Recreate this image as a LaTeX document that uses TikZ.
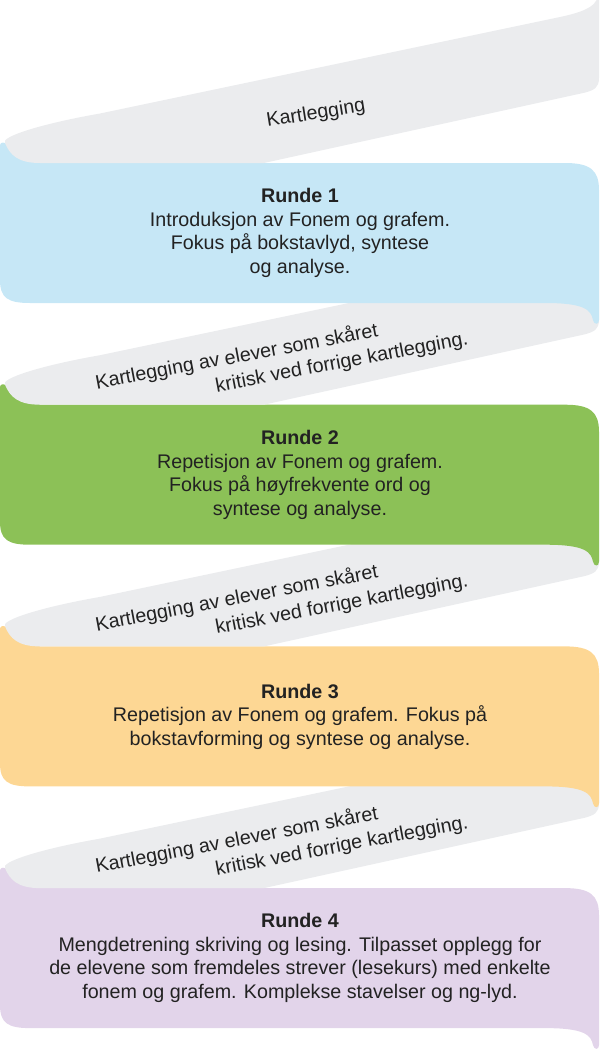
\documentclass[tikz,border=0pt]{standalone}
\usepackage{fontspec}
\setmainfont{Liberation Sans}
\definecolor{runde1}{HTML}{C6E7F6}
\definecolor{runde2}{HTML}{8CC157}
\definecolor{runde3}{HTML}{FDD794}
\definecolor{runde4}{HTML}{E2D4EA}
\definecolor{foldgray}{HTML}{EBECEE}
\definecolor{tekst}{HTML}{222222}
\begin{document}
\begin{tikzpicture}
[x=1pt,y=-1pt,
 fold/.style={fill=foldgray},
 runde/.style={align=center,inner sep=0pt,text=tekst,font=\fontsize{19.7}{23.5}\selectfont},
 kart/.style={align=left,inner sep=0pt,text=tekst,font=\fontsize{19.7}{25}\selectfont,rotate=10.7}]
\useasboundingbox (0,0) rectangle (600,1050);
\clip (0,0) rectangle (600,1050);
\foreach \k/\col in {3/runde4,2/runde3,1/runde2,0/runde1}
{
\begin{scope}[shift={(0,241.7*\k)}]
\fill[\col] (0,146) .. controls (0,143) and (2,142) .. (5,143) -- (30,158) -- (40,163)
  -- (565,163) .. controls (590,163) and (599,170) .. (599,190) -- (599,320)
  .. controls (599,325) and (594,325) .. (593,320) .. controls (591,310) and (585,303) .. (545,303)
  -- (30,303) .. controls (8,303) and (0,298) .. (0,280) -- cycle;
\fill[fold] (5,143) .. controls (0,137) and (40,124) .. (100,113.5) -- (560,17)
  .. controls (588,11) and (599,5) .. (599,-10) -- (599,78) .. controls (599,88) and (594,90) .. (585,92.6)
  -- (264,163) -- (40,163) .. controls (18,163) and (10,155) .. (5,143) -- cycle;
\end{scope}
}
\node[kart,rotate=-1.7] (k1) at (316,114) {Kartlegging};
\node[runde] (r1) at (300,233) {\textbf{Runde 1}\\Introduksjon av Fonem og grafem.\\Fokus på bokstavlyd, syntese\\og analyse.};
\node[kart] (k2) at (281.7,361.2) {Kartlegging av elever som skåret\\\hspace*{117.5pt}kritisk ved forrige kartlegging.};
\node[runde] (r2) at (300,474.7) {\textbf{Runde 2}\\Repetisjon av Fonem og grafem.\\Fokus på høyfrekvente ord og\\syntese og analyse.};
\node[kart] (k3) at (281.7,602.9) {Kartlegging av elever som skåret\\\hspace*{117.5pt}kritisk ved forrige kartlegging.};
\node[runde] (r3) at (300,716.4) {\textbf{Runde 3}\\Repetisjon av Fonem og grafem. Fokus på\\bokstavforming og syntese og analyse.};
\node[kart] (k4) at (281.7,844.6) {Kartlegging av elever som skåret\\\hspace*{117.5pt}kritisk ved forrige kartlegging.};
\node[runde] (r4) at (300,958.1) {\textbf{Runde 4}\\Mengdetrening skriving og lesing. Tilpasset opplegg for\\de elevene som fremdeles strever (lesekurs) med enkelte\\fonem og grafem. Komplekse stavelser og ng-lyd.};
\end{tikzpicture}
\end{document}
